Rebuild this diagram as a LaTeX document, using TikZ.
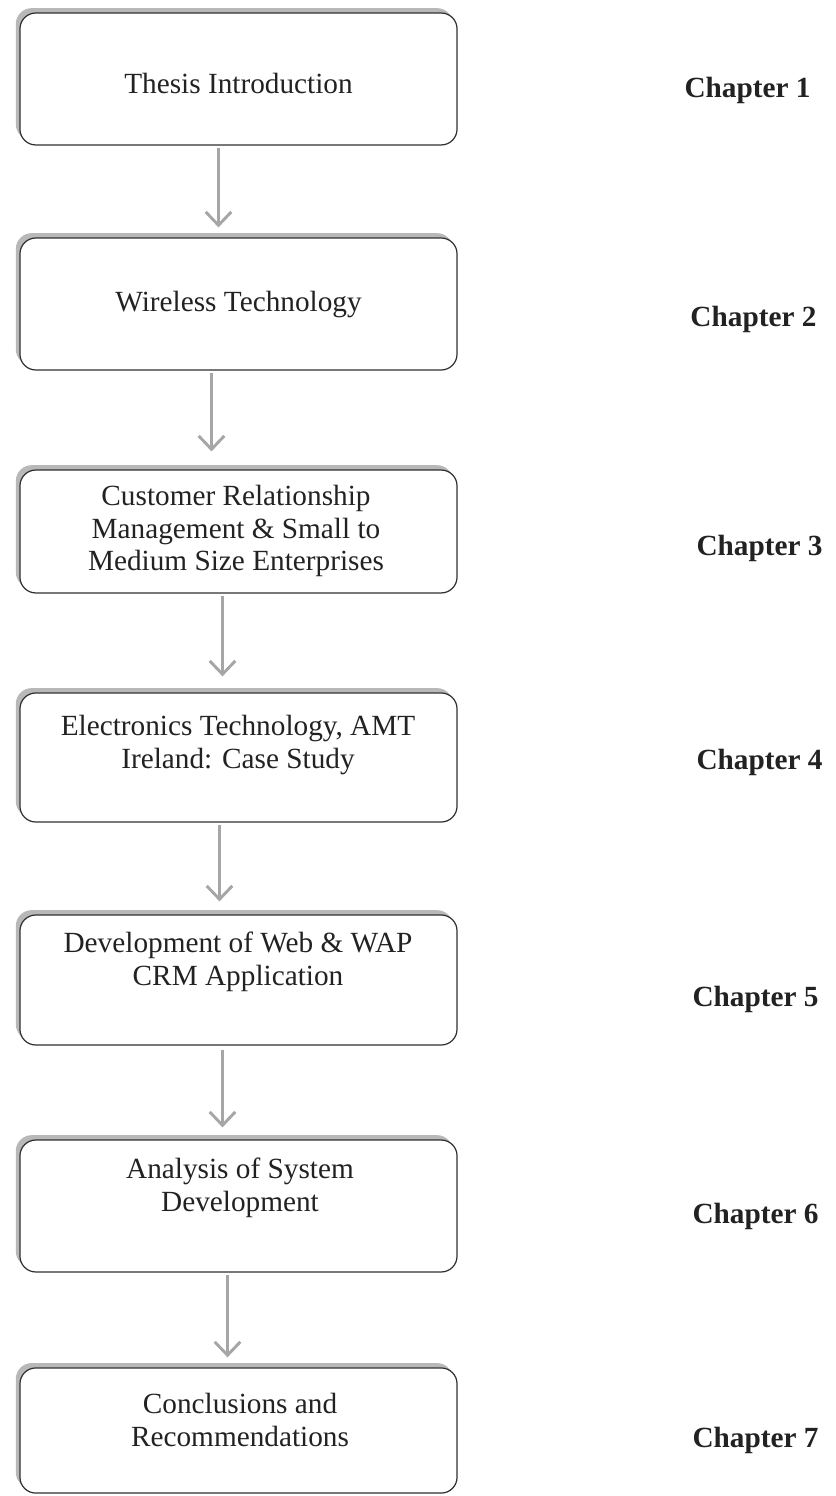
\documentclass[tikz,border=0pt]{standalone}
\usepackage{fontspec}
\setmainfont{Liberation Serif}
\usetikzlibrary{arrows.meta,calc,shadows}
\definecolor{ink}{HTML}{222222}
\definecolor{frame}{HTML}{303030}
\definecolor{flow}{HTML}{A6A6A6}
\tikzset{
  stagebox/.style={draw=frame, line width=0.5pt, fill=white, rounded corners=6.5pt,
    minimum width=179.2pt, inner sep=0pt,
    drop shadow={shadow xshift=-1.7pt, shadow yshift=2pt, fill=black!28, opacity=1}},
  stagetext/.style={align=center, text=ink, inner sep=0pt,
    font=\fontsize{12}{13.3}\selectfont},
  chaptag/.style={anchor=west, text=ink, inner sep=0pt,
    font=\fontsize{12}{14}\selectfont\bfseries},
  flowarrow/.style={draw=flow, line width=1.2pt,
    -{Straight Barb[length=5.5pt,width=10.5pt,line width=1.2pt]}}
}
\begin{document}
\begin{tikzpicture}[x=0.41pt, y=-0.41pt]
\useasboundingbox (0,0) rectangle (836,1496);

% chapter boxes
\node[stagebox, minimum height=54.1pt] (b1) at (238.5,79)    {};
\node[stagebox, minimum height=54.1pt] (b2) at (238.5,304)   {};
\node[stagebox, minimum height=50.4pt] (b3) at (238.5,531.5) {};
\node[stagebox, minimum height=52.9pt] (b4) at (238.5,757.5) {};
\node[stagebox, minimum height=53.3pt] (b5) at (238.5,980)   {};
\node[stagebox, minimum height=54.1pt] (b6) at (238.5,1206)  {};
\node[stagebox, minimum height=51.3pt] (b7) at (238.5,1430.5){};

% box captions
\node[stagetext] (t1) at (238.5,83)   {Thesis Introduction};
\node[stagetext] (t2) at (238.5,305)  {Wireless Technology};
\node[stagetext] (t3) at (236,531)    {Customer Relationship\\Management \& Small to\\Medium Size Enterprises};
\node[stagetext] (t4) at (238,745)    {Electronics Technology, AMT\\Ireland: Case Study};
\node[stagetext] (t5) at (238,962)    {Development of Web \& WAP\\CRM Application};
\node[stagetext] (t6) at (240,1188)   {Analysis of System\\Development};
\node[stagetext] (t7) at (240,1420)   {Conclusions and\\Recommendations};

% chapter numbers
\node[chaptag] (c1) at (684,90)   {Chapter 1};
\node[chaptag] (c2) at (690,319)  {Chapter 2};
\node[chaptag] (c3) at (696,548)  {Chapter 3};
\node[chaptag] (c4) at (696,762)  {Chapter 4};
\node[chaptag] (c5) at (692,999)  {Chapter 5};
\node[chaptag] (c6) at (692,1216) {Chapter 6};
\node[chaptag] (c7) at (692,1440) {Chapter 7};

% reading order
\draw[flowarrow] ($(b1.south)+(-20,2)$) -- ($(b2.north)+(-20,-10)$);
\draw[flowarrow] ($(b2.south)+(-27,2)$) -- ($(b3.north)+(-27,-18)$);
\draw[flowarrow] ($(b3.south)+(-16,2)$) -- ($(b4.north)+(-16,-16)$);
\draw[flowarrow] ($(b4.south)+(-19,2)$) -- ($(b5.north)+(-19,-13)$);
\draw[flowarrow] ($(b5.south)+(-16,4)$) -- ($(b6.north)+(-16,-12)$);
\draw[flowarrow] ($(b6.south)+(-11,2)$) -- ($(b7.north)+(-11,-10)$);
\end{tikzpicture}
\end{document}
